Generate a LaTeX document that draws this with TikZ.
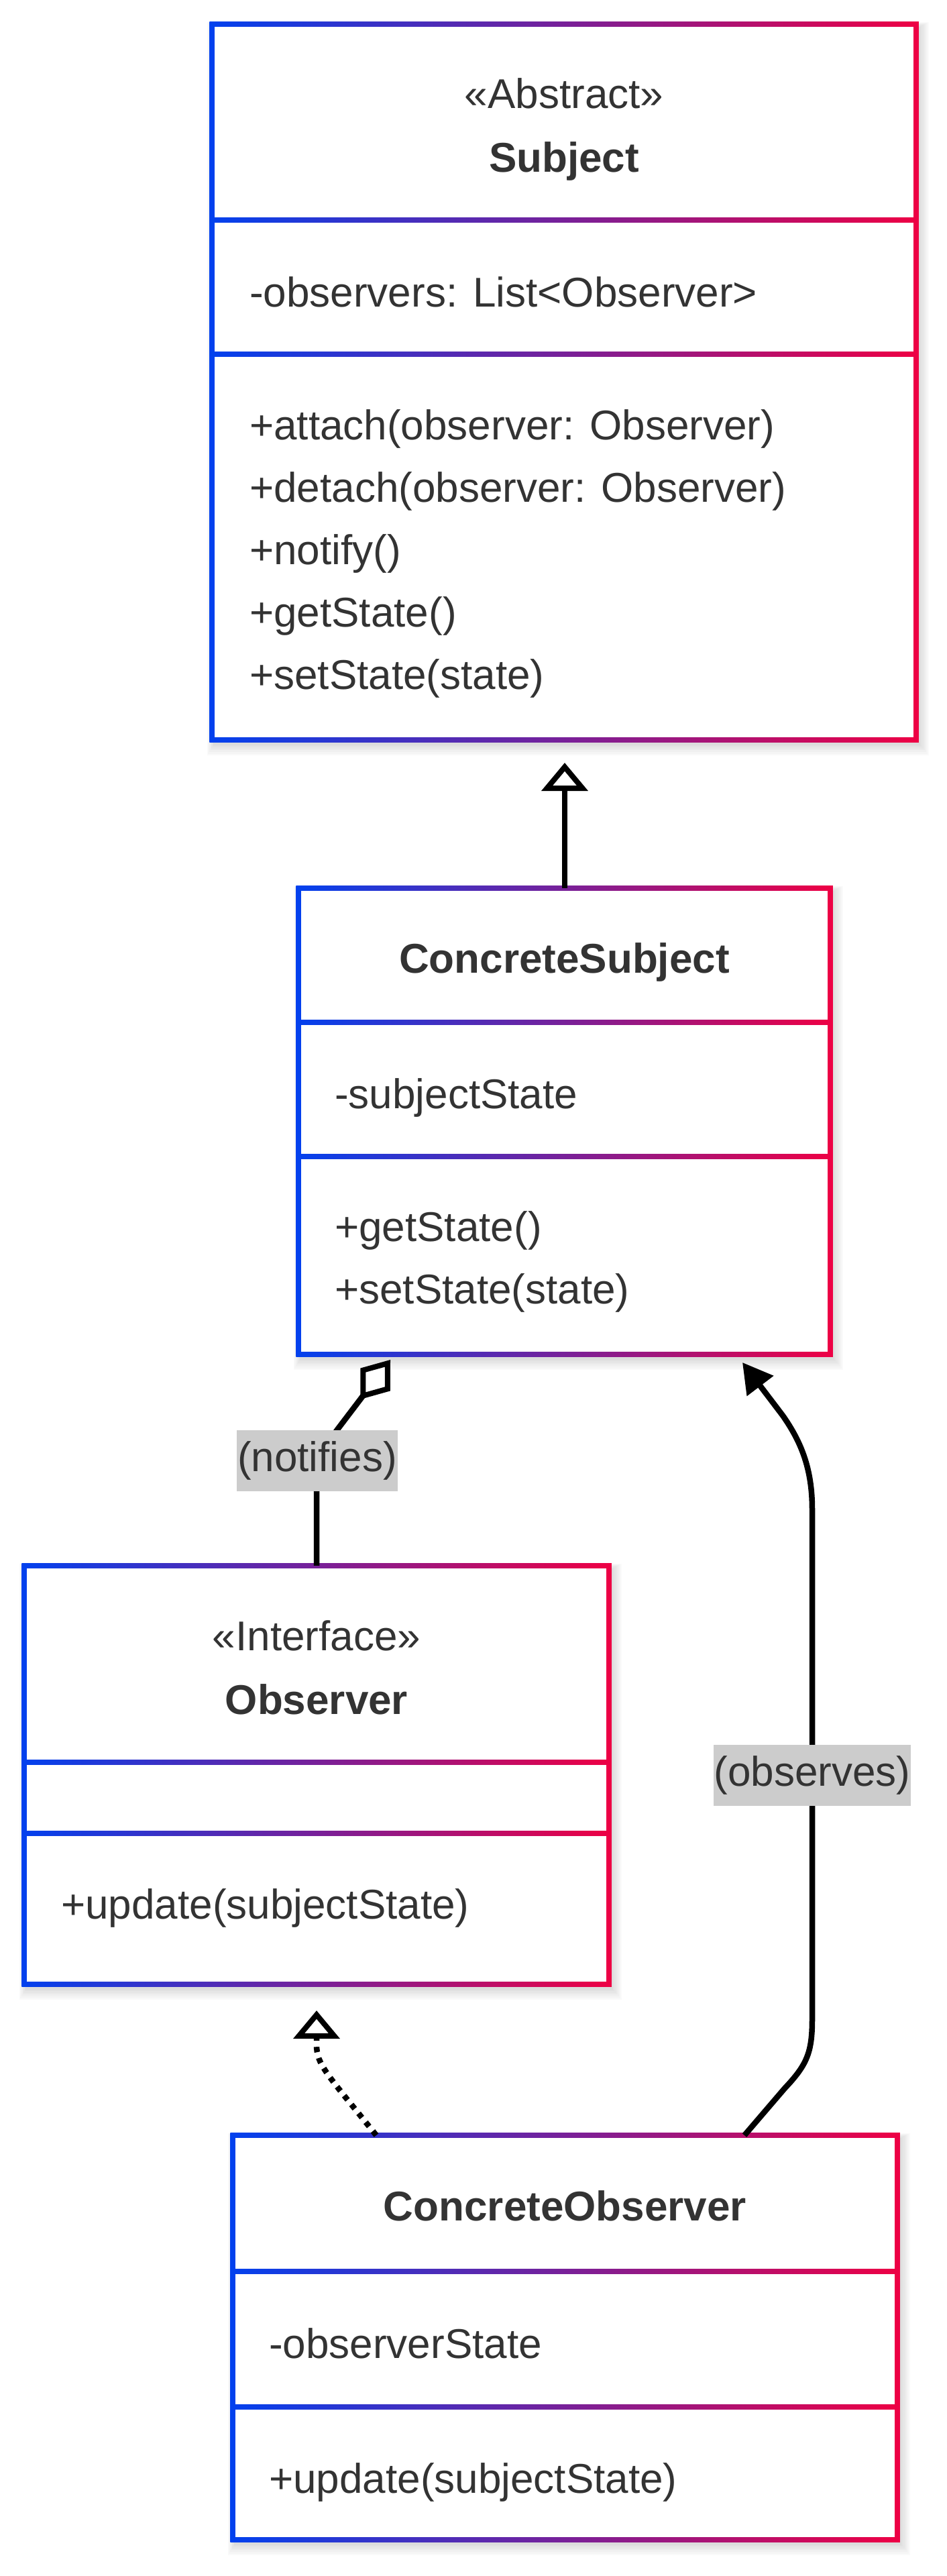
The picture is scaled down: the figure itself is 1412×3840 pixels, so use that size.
\documentclass[tikz,border=0pt]{standalone}
\usepackage{fontspec}
\setmainfont{Liberation Sans}
\usetikzlibrary{arrows.meta,fit}
\definecolor{gblue}{RGB}{2,65,238}
\definecolor{gred}{RGB}{238,0,68}
\definecolor{txt}{RGB}{51,51,51}
\definecolor{lblbg}{RGB}{204,204,204}
\tikzset{
  conn/.style={line width=8.5pt, black},
  lbl/.style={fill=lblbg, inner xsep=1pt, inner ysep=0pt, minimum height=91pt, text=txt},
  attr/.style={anchor=base west, inner sep=0pt, text=txt},
  ttl/.style={anchor=base, inner sep=0pt, text=txt, font=\fontsize{62pt}{74pt}\selectfont\bfseries},
  stereo/.style={anchor=base, inner sep=0pt, text=txt},
  inhtip/.tip={Triangle[open, length=42pt, width=68pt, line width=8pt]},
  aggtip/.tip={Diamond[open, length=74pt, width=56pt, line width=8pt]},
  deptip/.tip={Triangle[length=44pt, width=48pt]}
}
% #1 name, #2 x1, #3 y1, #4 x2, #5 y2, #6 divider 1, #7 divider 2
\newcommand\classbox[7]{%
  \foreach \i in {1,...,7}{%
    \fill[black, opacity=0.018] ({#2+4-\i*1.6},{#3+5-\i*1.2}) rectangle ({#4+4+\i*2.2},{#5+5+\i*2.6});
  }
  \shade[left color=gblue, right color=gred] ({#2-3.75},{#3-3.75}) rectangle ({#4+3.75},{#5+3.75});
  \fill[white] ({#2+3.75},{#3+3.75}) rectangle ({#4-3.75},{#5-3.75});
  \shade[left color=gblue, right color=gred] ({#2-3.75},{#6-3.5}) rectangle ({#4+3.75},{#6+3.5});
  \shade[left color=gblue, right color=gred] ({#2-3.75},{#7-3.5}) rectangle ({#4+3.75},{#7+3.5});
  \node[fit={(#2,#3)(#4,#5)}, inner sep=0pt] (#1) {};
}
\begin{document}
\begin{tikzpicture}[x=1pt, y=-1pt, font=\fontsize{62pt}{74pt}\selectfont]
\useasboundingbox (0,0) rectangle (1412,3840);
\fill[white] (0,0) rectangle (1412,3840);

% ---- Subject ----
\classbox{subj}{316}{36}{1366}{1103}{328}{528}
\node[stereo] (subjSt) at (841,162) {«Abstract»};
\node[ttl] (subjT) at (841,257) {Subject};
\node[attr] (subjA) at (372,457) {-observers: List<Observer>};
\node[attr] (subjM1) at (372,655) {+attach(observer: Observer)};
\node[attr] (subjM2) at (372,748) {+detach(observer: Observer)};
\node[attr] (subjM3) at (372,841) {+notify()};
\node[attr] (subjM4) at (372,934) {+getState()};
\node[attr] (subjM5) at (372,1027) {+setState(state)};

% ---- ConcreteSubject ----
\classbox{cs}{445}{1324}{1238}{2019}{1524}{1724}
\node[ttl] (csT) at (841.5,1450) {ConcreteSubject};
\node[attr] (csA) at (499,1652) {-subjectState};
\node[attr] (csM1) at (499,1850) {+getState()};
\node[attr] (csM2) at (499,1943) {+setState(state)};

% ---- Observer ----
\classbox{obs}{36}{2334}{908}{2958}{2627}{2733}
\node[stereo] (obsSt) at (472,2460) {«Interface»};
\node[ttl] (obsT) at (472,2555) {Observer};
\node[attr] (obsM1) at (91,2860) {+update(subjectState)};

% ---- ConcreteObserver ----
\classbox{co}{347}{3183}{1338}{3786}{3386}{3588}
\node[ttl] (coT) at (842.5,3310) {ConcreteObserver};
\node[attr] (coA) at (401,3515) {-observerState};
\node[attr] (coM1) at (401,3716) {+update(subjectState)};

% ---- connectors ----
\coordinate (inhTip) at (842,1137);
\draw[conn, -{inhtip}] (inhTip |- cs.north) -- (inhTip);

\coordinate (aggTip) at (582,2027);
\draw[conn, {aggtip}-] (aggTip) -- (503,2131) .. controls (480,2163) and (472,2190) .. (472,2225) -- (obs.north);
\node[lbl] (lblNotifies) at (473,2177) {(notifies)};

\coordinate (realStart) at (561,3183);
\coordinate (realTip) at (472,2997);
\draw[conn, dash pattern=on 8pt off 9pt, -{inhtip}] (realStart) .. controls (488,3092) and (472,3078) .. (472,3048) -- (realTip);

\coordinate (obsStart) at (1110,3183);
\coordinate (obsTip) at (1107,2031);
\draw[conn, -{deptip}] (obsStart) -- (1170,3113) .. controls (1203,3078) and (1211,3060) .. (1211,3010) -- (1211,2250) .. controls (1211,2190) and (1195,2150) .. (1167,2110) -- (obsTip);
\node[lbl] (lblObserves) at (1211,2646) {(observes)};
\end{tikzpicture}
\end{document}
